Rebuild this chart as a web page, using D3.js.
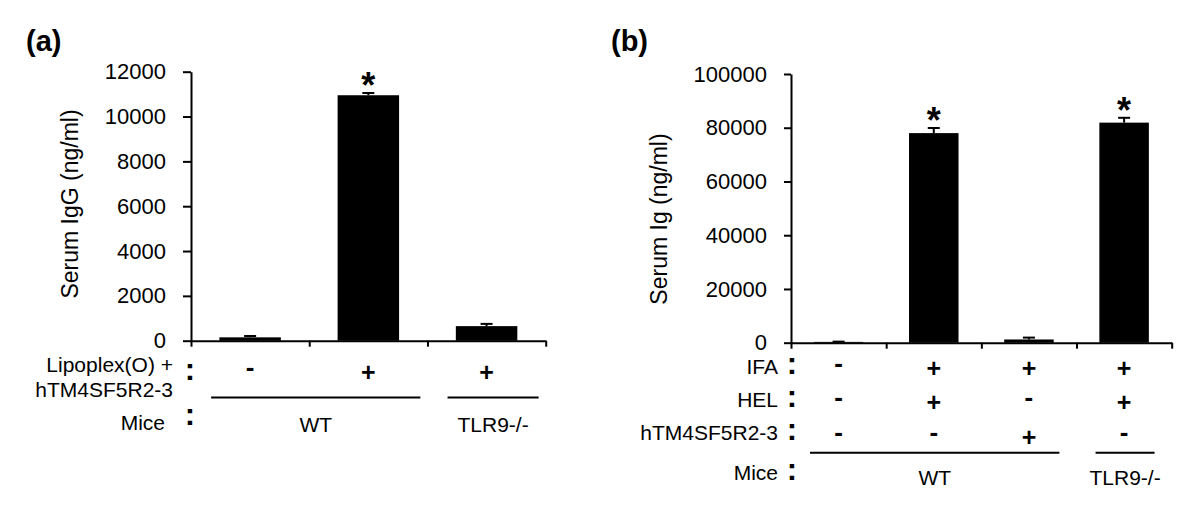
<!DOCTYPE html>
<html>
<head>
<meta charset="utf-8">
<script src="https://cdn.jsdelivr.net/npm/d3@7"></script>
<style>
  html, body { margin: 0; padding: 0; background: #fff; }
  svg { display: block; }
  text { font-family: "Liberation Sans", Arial, Helvetica, sans-serif; fill: #000; }
</style>
</head>
<body>
<script>
// ---------- Data: panel (a) ----------
const aLipoplex = ["-", "+", "+"];
const aMice = ["WT", "WT", "TLR9-/-"];
const aValues = [150, 10950, 650];
const aErrors = [60, 100, 100];
const aSignificant = [false, true, false];
const aTicks = [0, 2000, 4000, 6000, 8000, 10000, 12000];
const aYLabel = "Serum IgG (ng/ml)";

// ---------- Data: panel (b) ----------
const bIFA = ["-", "+", "+", "+"];
const bHEL = ["-", "+", "-", "+"];
const bHTM = ["-", "-", "+", "-"];
const bMice = ["WT", "WT", "WT", "TLR9-/-"];
const bValues = [300, 78000, 1200, 81900];
const bErrors = [100, 1900, 700, 1800];
const bSignificant = [false, true, false, true];
const bTicks = [0, 20000, 40000, 60000, 80000, 100000];
const bYLabel = "Serum Ig (ng/ml)";

const W = 1200, H = 505;
const svg = d3.select("body").append("svg").attr("width", W).attr("height", H);
svg.append("rect").attr("width", W).attr("height", H).attr("fill", "#fff");

const PLUS_FS = 25, MINUS_FS = 26;

function drawPanel(cfg) {
  const g = svg.append("g");
  const n = cfg.values.length;
  const y = d3.scaleLinear().domain([0, cfg.yMax]).range([cfg.yBottom, cfg.yTop]);
  const x = d3.scaleBand().domain(d3.range(n)).range([cfg.x0, cfg.x1])
    .paddingInner(0.48).paddingOuter(0.24);
  const xb = d3.scaleLinear().domain([0, n]).range([cfg.x0, cfg.x1]);
  const cx = i => x(i) + x.bandwidth() / 2;

  // panel letter
  g.append("text").attr("x", cfg.letterX).attr("y", 51)
    .attr("font-size", 29).attr("font-weight", "bold").text(cfg.letter);

  // y axis
  const ya = g.append("g").attr("transform", `translate(${cfg.x0},0)`)
    .call(d3.axisLeft(y).tickValues(cfg.ticks).tickFormat(d3.format("d"))
      .tickSize(cfg.yTick).tickPadding(17).tickSizeOuter(0));
  ya.selectAll("path,line").attr("stroke", "#000").attr("stroke-width", 2);
  ya.selectAll("text").attr("font-size", 22)
    .attr("font-family", "Liberation Sans, Arial, sans-serif").attr("fill", "#000");

  // y title
  g.append("text")
    .attr("transform", `translate(${cfg.titleX},${cfg.titleY}) rotate(-90)`)
    .attr("text-anchor", "middle").attr("font-size", 23).text(cfg.yLabel);

  // bars
  g.selectAll("rect.bar").data(cfg.values).join("rect").attr("class", "bar")
    .attr("x", (d, i) => x(i)).attr("width", x.bandwidth())
    .attr("y", d => y(d)).attr("height", d => y(0) - y(d)).attr("fill", "#000");

  // error bars (upper)
  cfg.values.forEach((v, i) => {
    const e = cfg.errors[i];
    g.append("line").attr("x1", cx(i)).attr("x2", cx(i))
      .attr("y1", y(v)).attr("y2", y(v + e)).attr("stroke", "#000").attr("stroke-width", 2);
    g.append("line").attr("x1", cx(i) - 6).attr("x2", cx(i) + 6)
      .attr("y1", y(v + e)).attr("y2", y(v + e)).attr("stroke", "#000").attr("stroke-width", 2);
    if (cfg.sig[i]) {
      g.append("text").attr("x", cx(i)).attr("y", y(v + e) - 14.5 + 0.555 * 36)
        .attr("text-anchor", "middle").attr("font-size", 36).attr("font-weight", "bold").text("*");
    }
  });

  // x axis (band boundary ticks)
  const xa = g.append("g").attr("transform", `translate(0,${cfg.yBottom})`)
    .call(d3.axisBottom(xb).tickValues(d3.range(n + 1)).tickFormat("").tickSize(6).tickSizeOuter(0));
  xa.selectAll("path,line").attr("stroke", "#000").attr("stroke-width", 2);

  // condition rows
  cfg.rows.forEach(r => {
    g.append("text").attr("x", cfg.labelRight).attr("y", r.base)
      .attr("text-anchor", "end").attr("font-size", 21).text(r.label);
    if (r.label2) {
      g.append("text").attr("x", cfg.labelRight).attr("y", r.base2)
        .attr("text-anchor", "end").attr("font-size", 21).text(r.label2);
    }
    g.append("text").attr("x", cfg.colonX).attr("y", r.colonBase)
      .attr("text-anchor", "middle").attr("font-size", 31).attr("font-weight", "bold").text(":");
    r.signs.forEach((s, i) => {
      const plus = s === "+";
      const c = r.signCenter + (plus ? 2.5 : -2);
      g.append("text").attr("x", cx(i))
        .attr("y", c + (plus ? 0.293 * PLUS_FS : 0.25 * MINUS_FS))
        .attr("text-anchor", "middle").attr("font-weight", "bold")
        .attr("font-size", plus ? PLUS_FS : MINUS_FS).text(s);
    });
  });

  // mice row
  const m = cfg.mice;
  g.append("text").attr("x", m.labelRight).attr("y", m.base)
    .attr("text-anchor", "end").attr("font-size", 21).text("Mice");
  g.append("text").attr("x", cfg.colonX).attr("y", m.colonBase)
    .attr("text-anchor", "middle").attr("font-size", 31).attr("font-weight", "bold").text(":");
  // contiguous groups
  const groups = [];
  cfg.miceGroups.forEach((name, i) => {
    const last = groups[groups.length - 1];
    if (last && last.name === name) last.end = i; else groups.push({ name, start: i, end: i });
  });
  const step = xb(1) - xb(0);
  groups.forEach(gr => {
    const a = xb(gr.start) + m.inset0 * step, b = xb(gr.end + 1) - m.inset1 * step;
    g.append("line").attr("x1", a).attr("x2", b).attr("y1", m.lineY).attr("y2", m.lineY)
      .attr("stroke", "#000").attr("stroke-width", 2);
    g.append("text").attr("x", (a + b) / 2).attr("y", m.textBase)
      .attr("text-anchor", "middle").attr("font-size", 21).text(gr.name);
  });
}

drawPanel({
  letter: "(a)", letterX: 26,
  values: aValues, errors: aErrors, sig: aSignificant, ticks: aTicks, yMax: 12000,
  x0: 191, x1: 545.7, yTop: 71.7, yBottom: 340.7, yTick: 8,
  titleX: 78, titleY: 204, yLabel: aYLabel,
  labelRight: 173, colonX: 190,
  rows: [
    { label: "Lipoplex(O) +", base: 371.5, label2: "hTM4SF5R2-3", base2: 396.5,
      colonBase: 379.5, signCenter: 371.5, signs: aLipoplex }
  ],
  miceGroups: aMice,
  mice: { labelRight: 165, base: 430, colonBase: 425, lineY: 397.5, textBase: 432, inset0: 0.17, inset1: 0.06 }
});

drawPanel({
  letter: "(b)", letterX: 611,
  values: bValues, errors: bErrors, sig: bSignificant, ticks: bTicks, yMax: 100000,
  x0: 791, x1: 1171.7, yTop: 74, yBottom: 342.7, yTick: 7,
  titleX: 667, titleY: 219, yLabel: bYLabel,
  labelRight: 778, colonX: 792,
  rows: [
    { label: "IFA", base: 374.3, colonBase: 374, signCenter: 367, signs: bIFA },
    { label: "HEL", base: 406.5, colonBase: 407, signCenter: 401, signs: bHEL },
    { label: "hTM4SF5R2-3", base: 440, colonBase: 439.5, signCenter: 436, signs: bHTM }
  ],
  miceGroups: bMice,
  mice: { labelRight: 778, base: 479.5, colonBase: 479.5, lineY: 452.7, textBase: 485, inset0: 0.2, inset1: 0.18 }
});
</script>
</body>
</html>
